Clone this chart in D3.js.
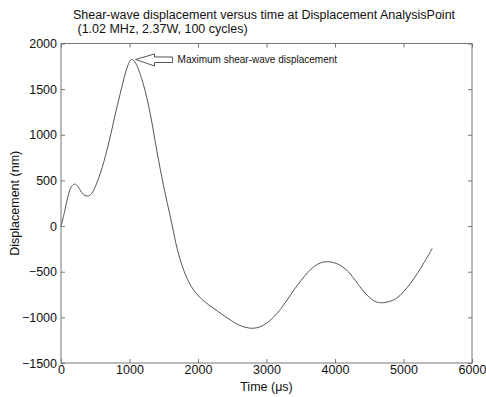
<!DOCTYPE html>
<html>
<head>
<meta charset="utf-8">
<script src="https://cdn.jsdelivr.net/npm/d3@7"></script>
<style>
  body { margin: 0; background: #fff; }
  svg { font-family: "Liberation Sans", Arial, sans-serif; }
  .axis path, .axis line { stroke: #777; }
  .axis text { fill: #111; font-size: 12.5px; }
</style>
</head>
<body>
<svg width="486" height="397"></svg>
<script>
// time (us) and displacement (nm)
const times = [0, 50, 100, 150, 200, 250, 300, 350, 400, 450, 500, 600, 700, 800, 900, 950, 1000, 1030, 1060, 1100,
  1200, 1300, 1400, 1500, 1600, 1700, 1800, 1900, 2000, 2100, 2200, 2300, 2400, 2500, 2600, 2700, 2800, 2900,
  3000, 3100, 3200, 3300, 3400, 3500, 3600, 3700, 3800, 3900, 4000, 4100, 4200, 4300, 4400, 4500, 4600, 4700,
  4800, 4900, 5000, 5100, 5200, 5300, 5420];
const disp = [0, 150, 320, 430, 460, 430, 370, 335, 330, 360, 430, 640, 920, 1250, 1560, 1700, 1800, 1825, 1815, 1770,
  1560, 1240, 820, 430, 90, -260, -500, -660, -760, -830, -887, -940, -992, -1042, -1085, -1110, -1120, -1105,
  -1065, -1000, -915, -810, -700, -600, -510, -440, -400, -390, -405, -440, -505, -600, -700, -780, -830, -840,
  -825, -790, -720, -630, -520, -400, -245];
const xTicks = [0, 1000, 2000, 3000, 4000, 5000, 6000];
const yTicks = [-1500, -1000, -500, 0, 500, 1000, 1500, 2000];
const titleLines = ['Shear-wave displacement versus time at Displacement AnalysisPoint', ' (1.02 MHz, 2.37W, 100 cycles)'];
const note = 'Maximum shear-wave displacement';

const svg = d3.select('svg');
const m = { l: 61, r: 14, t: 43.5, b: 34 };
const w = 486, h = 397;

const x = d3.scaleLinear().domain([0, 6000]).range([m.l, w - m.r]);
const y = d3.scaleLinear().domain([-1500, 2000]).range([h - m.b, m.t]);
const fmt = d3.format('d');

// box
svg.append('rect')
  .attr('x', m.l).attr('y', m.t)
  .attr('width', x(6000) - m.l).attr('height', y(-1500) - m.t)
  .attr('fill', 'none').attr('stroke', '#777');

svg.append('g').attr('class', 'axis')
  .attr('transform', `translate(0,${y(-1500)})`)
  .call(d3.axisBottom(x).tickValues(xTicks).tickFormat(fmt).tickSizeInner(-4).tickSizeOuter(0).tickPadding(2))
  .call((g) => g.select('.domain').remove());
svg.append('g').attr('class', 'axis')
  .attr('transform', `translate(0,${m.t})`)
  .call(d3.axisTop(x).tickValues(xTicks).tickSizeInner(-4).tickSizeOuter(0).tickFormat(''))
  .call((g) => g.select('.domain').remove());
svg.append('g').attr('class', 'axis')
  .attr('transform', `translate(${m.l},0)`)
  .call(d3.axisLeft(y).tickValues(yTicks).tickFormat(fmt).tickSizeInner(-4).tickSizeOuter(0).tickPadding(4))
  .call((g) => g.select('.domain').remove());
svg.append('g').attr('class', 'axis')
  .attr('transform', `translate(${x(6000)},0)`)
  .call(d3.axisRight(y).tickValues(yTicks).tickSizeInner(-4).tickSizeOuter(0).tickFormat(''))
  .call((g) => g.select('.domain').remove());

// curve
svg.append('path')
  .datum(times.map((t, i) => [t, disp[i]]))
  .attr('fill', 'none')
  .attr('stroke', '#555')
  .attr('stroke-width', 1)
  .attr('d', d3.line().x((d) => x(d[0])).y((d) => y(d[1])).curve(d3.curveCatmullRom));

// hollow arrow pointing at the peak
const iMax = d3.maxIndex(disp);
const ax = x(times[iMax]) + 4, ay = y(disp[iMax]);
svg.append('path')
  .attr('d', `M${ax},${ay} L${ax + 19},${ay - 5.5} L${ax + 19},${ay - 2.5} L${ax + 37},${ay - 2.5}
    L${ax + 37},${ay + 3} L${ax + 19},${ay + 3} L${ax + 19},${ay + 6.5} Z`)
  .attr('fill', '#fff').attr('stroke', '#555').attr('stroke-width', 1);
svg.append('text')
  .attr('x', ax + 42).attr('y', ay + 3.5)
  .attr('font-size', 10).attr('fill', '#111')
  .text(note);

// titles and labels
svg.append('text').attr('x', 264).attr('y', 18.5).attr('text-anchor', 'middle')
  .attr('font-size', 12.5).attr('fill', '#111').text(titleLines[0]);
svg.append('text').attr('x', 74).attr('y', 32.5).attr('xml:space', 'preserve')
  .attr('font-size', 12.5).attr('fill', '#111').text(titleLines[1]);
svg.append('text').attr('x', (m.l + x(6000)) / 2).attr('y', 391).attr('text-anchor', 'middle')
  .attr('font-size', 12.5).attr('fill', '#111').text('Time (μs)');
svg.append('text').attr('transform', `translate(19,${(m.t + y(-1500)) / 2}) rotate(-90)`)
  .attr('text-anchor', 'middle').attr('font-size', 12.5).attr('fill', '#111').text('Displacement (nm)');
</script>
</body>
</html>
